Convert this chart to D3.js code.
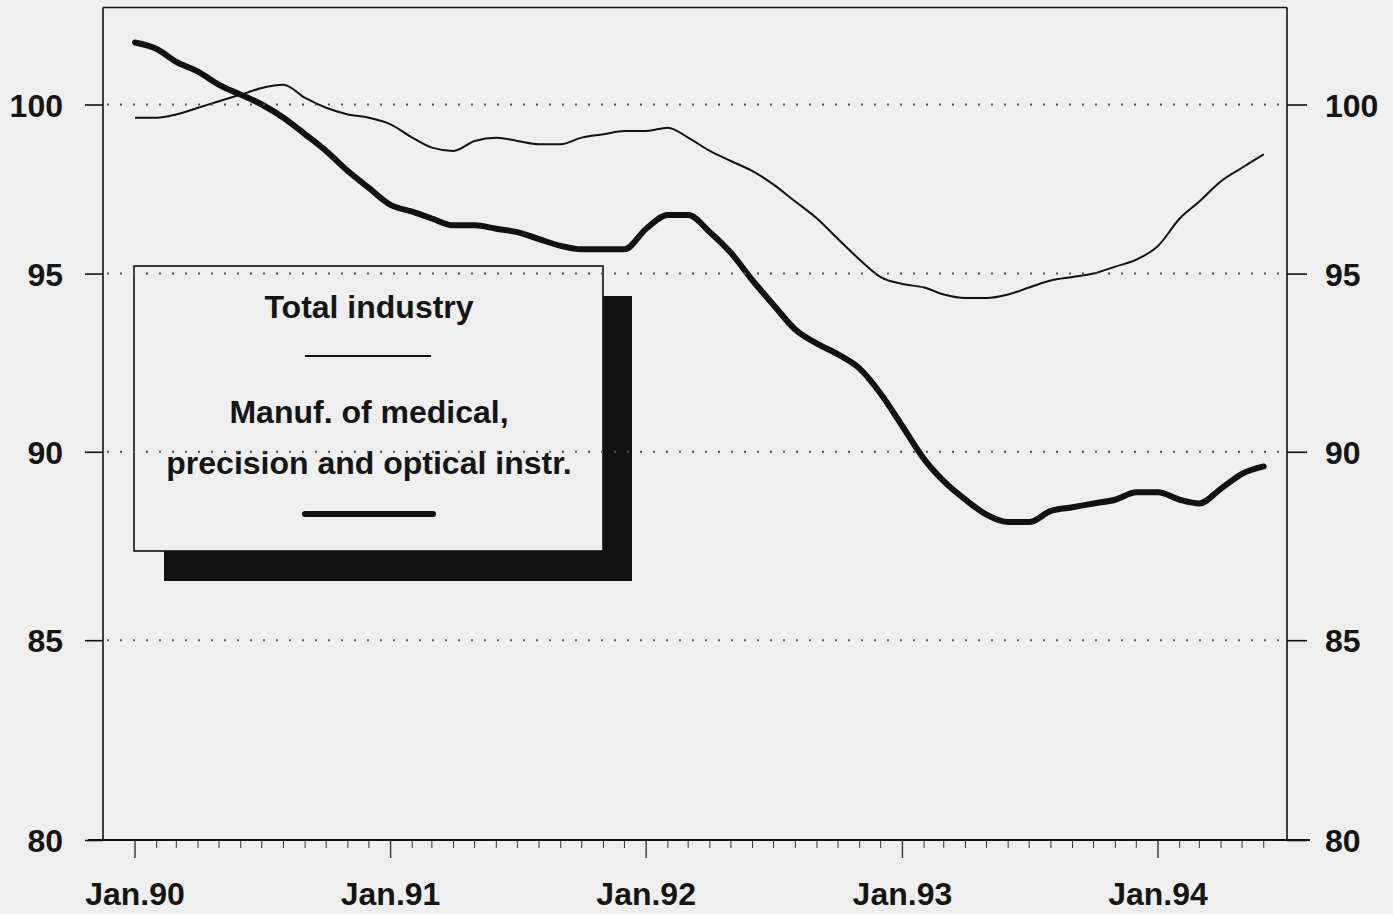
<!DOCTYPE html>
<html>
<head>
<meta charset="utf-8">
<script src="https://cdn.jsdelivr.net/npm/d3@7"></script>
<style>
  html, body { margin: 0; padding: 0; background: #efefef; }
  svg { display: block; }
  text { font-family: "Liberation Sans", Arial, Helvetica, sans-serif; fill: #151515; }
</style>
</head>
<body>
<svg id="chart" width="1393" height="914"></svg>
<script>
// ---- data (monthly, Jan.90 – Jun.94) ----
const startMonth = [1990, 0];
const totalIndustry = [99.6,99.6,99.7,99.9,100.1,100.3,100.5,100.6,100.2,99.9,
  99.7,99.6,99.4,99.0,98.7,98.6,98.9,99.0,98.9,98.8,
  98.8,99.0,99.1,99.2,99.2,99.3,99.0,98.6,98.3,98.0,
  97.6,97.1,96.6,96.0,95.4,94.9,94.7,94.6,94.4,94.3,
  94.3,94.4,94.6,94.8,94.9,95.0,95.2,95.4,95.8,96.6,
  97.1,97.7,98.1,98.5];
const medicalInstr = [101.9,101.7,101.3,101.0,100.6,100.3,100.0,99.6,99.1,98.6,
  98.0,97.5,97.0,96.8,96.6,96.4,96.4,96.3,96.2,96.0,
  95.8,95.7,95.7,95.7,96.3,96.7,96.7,96.2,95.6,94.8,
  94.1,93.4,93.0,92.7,92.3,91.6,90.7,89.8,89.2,88.7,
  88.3,88.1,88.1,88.4,88.5,88.6,88.7,88.9,88.9,88.7,
  88.6,89.0,89.4,89.6];
const yTicks = [80, 85, 90, 95, 100];
const yGrid = [85, 90, 95, 100];
const xTickLabels = ["Jan.90", "Jan.91", "Jan.92", "Jan.93", "Jan.94"];
const legendTitles = [["Total industry"], ["Manuf. of medical,", "precision and optical instr."]];

const dates = totalIndustry.map((_, i) => new Date(startMonth[0], startMonth[1] + i, 1));

// ---- layout ----
const svg = d3.select("#chart");
const frame = { left: 103, right: 1287, top: 7.5, bottom: 840 };

const x = d3.scaleTime()
  .domain([new Date(1990, 0, 1), new Date(1994, 0, 1)])
  .range([135, 1158]);
const y = d3.scaleLog()
  .domain([80, 100])
  .range([840, 104.5]);

// frame
svg.append("line").attr("x1", frame.left).attr("x2", frame.left)
  .attr("y1", frame.top).attr("y2", frame.bottom)
  .attr("stroke", "#111").attr("stroke-width", 1.6);
svg.append("line").attr("x1", frame.right).attr("x2", frame.right)
  .attr("y1", frame.top).attr("y2", frame.bottom)
  .attr("stroke", "#111").attr("stroke-width", 1.6);
svg.append("line").attr("x1", frame.left).attr("x2", frame.right)
  .attr("y1", frame.top).attr("y2", frame.top)
  .attr("stroke", "#111").attr("stroke-width", 1.6);

// left axis
const leftAxis = d3.axisLeft(y).tickValues(yTicks).tickSize(18).tickPadding(22)
  .tickFormat(d3.format("d"));
const gl = svg.append("g").attr("transform", `translate(${frame.left},0)`).call(leftAxis);
gl.select(".domain").remove();
gl.selectAll(".tick line").attr("stroke", "#111").attr("stroke-width", 1.6);
gl.selectAll(".tick text").attr("font-size", 32).attr("fill", "#151515").attr("font-weight", "bold")
  .attr("font-family", "Liberation Sans, Arial, sans-serif").attr("dy", "0.36em");

// right axis
const rightAxis = d3.axisRight(y).tickValues(yTicks).tickSize(20).tickPadding(18)
  .tickFormat(d3.format("d"));
const gr = svg.append("g").attr("transform", `translate(${frame.right},0)`).call(rightAxis);
gr.select(".domain").remove();
gr.selectAll(".tick line").attr("stroke", "#111").attr("stroke-width", 1.6);
gr.selectAll(".tick text").attr("font-size", 32).attr("fill", "#151515").attr("font-weight", "bold")
  .attr("font-family", "Liberation Sans, Arial, sans-serif").attr("dy", "0.36em");

// bottom axis line
svg.append("line").attr("x1", 88).attr("x2", 1310)
  .attr("y1", frame.bottom).attr("y2", frame.bottom)
  .attr("stroke", "#111").attr("stroke-width", 2);

// monthly minor ticks and Jan major ticks
svg.append("g").selectAll("line").data(dates).join("line")
  .attr("x1", d => x(d)).attr("x2", d => x(d))
  .attr("y1", frame.bottom).attr("y2", d => d.getMonth() === 0 ? frame.bottom + 18 : frame.bottom + 8)
  .attr("stroke", "#333").attr("stroke-width", d => d.getMonth() === 0 ? 1.4 : 1);

const janDates = xTickLabels.map((_, i) => new Date(1990 + i, 0, 1));
svg.append("g").selectAll("text").data(janDates).join("text")
  .attr("x", d => x(d)).attr("y", 905)
  .attr("text-anchor", "middle").attr("font-size", 32).attr("font-weight", "bold")
  .text((d, i) => xTickLabels[i]);

// lines
const line = d3.line().x((d, i) => x(dates[i])).y(d => y(d)).curve(d3.curveMonotoneX);
svg.append("path").datum(totalIndustry)
  .attr("d", line).attr("fill", "none").attr("stroke", "#111")
  .attr("stroke-width", 2).attr("stroke-linejoin", "round");
svg.append("path").datum(medicalInstr)
  .attr("d", line).attr("fill", "none").attr("stroke", "#111")
  .attr("stroke-width", 6).attr("stroke-linejoin", "round").attr("stroke-linecap", "round");

// legend with shadow
const lg = svg.append("g");
lg.append("rect").attr("x", 164).attr("y", 296).attr("width", 468).attr("height", 285)
  .attr("fill", "#111");
lg.append("rect").attr("x", 134).attr("y", 266).attr("width", 469).attr("height", 285)
  .attr("fill", "#efefef").attr("stroke", "#111").attr("stroke-width", 1.6);
const cx = 369;
lg.append("text").attr("x", cx).attr("y", 318).attr("text-anchor", "middle")
  .attr("font-size", 32).attr("font-weight", "bold").text(legendTitles[0][0]);
lg.append("line").attr("x1", 305).attr("x2", 431).attr("y1", 356).attr("y2", 356)
  .attr("stroke", "#111").attr("stroke-width", 2);
lg.append("text").attr("x", cx).attr("y", 423).attr("text-anchor", "middle")
  .attr("font-size", 32).attr("font-weight", "bold").text(legendTitles[1][0]);
lg.append("text").attr("x", cx).attr("y", 474).attr("text-anchor", "middle")
  .attr("font-size", 32).attr("font-weight", "bold").text(legendTitles[1][1]);
lg.append("line").attr("x1", 305).attr("x2", 433).attr("y1", 514).attr("y2", 514)
  .attr("stroke", "#111").attr("stroke-width", 6).attr("stroke-linecap", "round");

// dotted grid (drawn over legend, as in the original)
svg.append("g").selectAll("line").data(yGrid).join("line")
  .attr("x1", frame.left + 4).attr("x2", frame.right - 2)
  .attr("y1", d => y(d)).attr("y2", d => y(d))
  .attr("stroke", "#555").attr("stroke-width", 2)
  .attr("stroke-dasharray", "2 11");
</script>
</body>
</html>
